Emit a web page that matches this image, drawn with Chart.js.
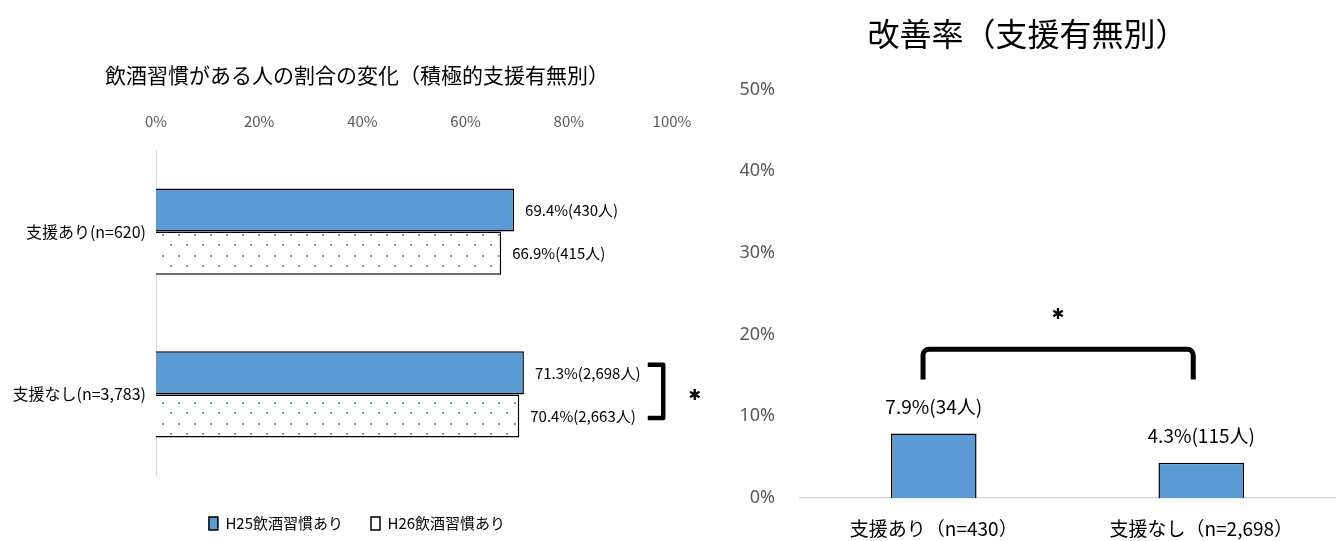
<!DOCTYPE html>
<html><head><meta charset="utf-8">
<script src="https://cdn.jsdelivr.net/npm/chart.js@4.4.1/dist/chart.umd.min.js"></script>
<style>
html,body{margin:0;padding:0;background:#fff;width:1339px;height:541px;overflow:hidden}
#wl{position:absolute;left:0;top:0;width:720px;height:541px}
#wr{position:absolute;left:720px;top:0;width:619px;height:541px}
</style></head><body>
<div id="wl"><canvas id="cl"></canvas></div>
<div id="wr"><canvas id="cr"></canvas></div>
<script>
// ---- data: left chart ----
const leftTitle = '飲酒習慣がある人の割合の変化（積極的支援有無別）';
const groupLabels = ['支援あり(n=620)', '支援なし(n=3,783)'];
const seriesNames = ['H25飲酒習慣あり', 'H26飲酒習慣あり'];
const h25Rates = [69.4, 71.3];
const h26Rates = [66.9, 70.4];
const h25Texts = ['69.4%(430人)', '71.3%(2,698人)'];
const h26Texts = ['66.9%(415人)', '70.4%(2,663人)'];
const leftAxisMax = 100;
const leftAxisStep = 20;

// ---- data: right chart ----
const rightTitle = '改善率（支援有無別）';
const improveGroups = ['支援あり（n=430）', '支援なし（n=2,698）'];
const improveRates = [7.9, 4.3];
const improveTexts = ['7.9%(34人)', '4.3%(115人)'];
const rightAxisMax = 50;
const rightAxisStep = 10;

const narrow = '"Liberation Sans Narrow", "Noto Sans CJK JP", sans-serif';
const cjk = '"Noto Sans CJK JP", "Noto Sans", sans-serif';
const blue = '#5B9BD5';
const gray = '#595959';

function dotPattern(ctx) {
  const c = document.createElement('canvas');
  c.width = 16; c.height = 21;
  const g = c.getContext('2d');
  g.fillStyle = '#fff'; g.fillRect(0, 0, 16, 21);
  g.fillStyle = blue;
  g.fillRect(2, 3, 2, 2);
  g.fillRect(10, 13, 2, 2);
  return ctx.createPattern(c, 'repeat');
}

const barText = {
  id: 'barText',
  afterDatasetsDraw(chart, args, opts) {
    const ctx = chart.ctx;
    ctx.save();
    ctx.font = opts.font;
    ctx.fillStyle = '#000';
    ctx.textBaseline = 'middle';
    opts.texts.forEach((arr, di) => {
      chart.getDatasetMeta(di).data.forEach((bar, i) => {
        if (opts.horizontal) {
          ctx.textAlign = 'left';
          ctx.fillText(arr[i], bar.x + opts.offset, bar.y);
        } else {
          ctx.textAlign = 'center';
          ctx.fillText(arr[i], bar.x, bar.y - opts.offset);
        }
      });
    });
    ctx.restore();
  }
};

const leftBracket = {
  id: 'leftBracket',
  afterDraw(chart) {
    const xs = chart.scales.x;
    const a = chart.getDatasetMeta(0).data[1];
    const b = chart.getDatasetMeta(1).data[1];
    const x1 = xs.getPixelForValue(95.3), x2 = xs.getPixelForValue(98.3);
    const top = a.y - 8, bot = b.y + 2;
    const ctx = chart.ctx;
    ctx.save();
    ctx.strokeStyle = '#000'; ctx.lineWidth = 4.5; ctx.lineJoin = 'round';
    ctx.beginPath();
    ctx.moveTo(x1, top); ctx.lineTo(x2, top); ctx.lineTo(x2, bot); ctx.lineTo(x1, bot);
    ctx.stroke();
    ctx.fillStyle = '#000';
    ctx.font = 'bold 15px "DejaVu Sans"';
    ctx.textAlign = 'center'; ctx.textBaseline = 'middle';
    ctx.fillText('✱', xs.getPixelForValue(104.4), (a.y + b.y) / 2 + 2);
    ctx.restore();
  }
};

const rightBracket = {
  id: 'rightBracket',
  afterDraw(chart) {
    const xs = chart.scales.x, ys = chart.scales.y;
    const x1 = xs.getPixelForValue(-0.04), x2 = xs.getPixelForValue(0.97);
    const top = ys.getPixelForValue(18.2), bot = ys.getPixelForValue(14.5);
    const r = 6;
    const ctx = chart.ctx;
    ctx.save();
    ctx.strokeStyle = '#000'; ctx.lineWidth = 5;
    ctx.beginPath();
    ctx.moveTo(x1, bot);
    ctx.lineTo(x1, top + r);
    ctx.arcTo(x1, top, x1 + r, top, r);
    ctx.lineTo(x2 - r, top);
    ctx.arcTo(x2, top, x2, top + r, r);
    ctx.lineTo(x2, bot);
    ctx.stroke();
    ctx.fillStyle = '#000';
    ctx.font = 'bold 15px "DejaVu Sans"';
    ctx.textAlign = 'center'; ctx.textBaseline = 'middle';
    ctx.fillText('✱', (x1 + x2) / 2, ys.getPixelForValue(22.4));
    ctx.restore();
  }
};

const cl = document.getElementById('cl');
const pat = dotPattern(cl.getContext('2d'));

new Chart(cl, {
  type: 'bar',
  data: {
    labels: groupLabels,
    datasets: [
      { label: seriesNames[0], data: h25Rates, backgroundColor: blue, borderColor: '#000', borderWidth: 1.5,
        categoryPercentage: 0.53, barPercentage: 1.0 },
      { label: seriesNames[1], data: h26Rates, backgroundColor: pat, borderColor: '#000', borderWidth: 1.5,
        categoryPercentage: 0.53, barPercentage: 1.0 }
    ]
  },
  options: {
    indexAxis: 'y',
    responsive: true,
    maintainAspectRatio: false,
    animation: false,
    layout: { padding: { left: 0, right: 6, top: 0, bottom: 0 } },
    scales: {
      x: {
        position: 'top', min: 0, max: leftAxisMax,
        grid: { display: false, drawTicks: false },
        border: { display: false },
        ticks: { stepSize: leftAxisStep, padding: 20, color: gray,
                 font: { family: narrow, size: 15 }, callback: v => v + '%' },
        afterFit(s) { s.height = 58; }
      },
      y: {
        grid: { display: false, drawTicks: false },
        border: { display: true, color: '#d9d9d9', width: 1 },
        ticks: { padding: 10, color: '#000', font: { family: narrow, size: 16 } },
        afterFit(s) { s.width = 156; }
      },
      yPad: {
        type: 'category', position: 'right', display: true,
        grid: { display: false, drawTicks: false },
        border: { display: false },
        ticks: { display: false },
        afterFit(s) { s.width = 42; }
      }
    },
    plugins: {
      tooltip: { enabled: false },
      title: { display: true, text: leftTitle, color: '#000',
               font: { family: narrow, size: 21, weight: 'normal' },
               padding: { top: 62, bottom: 5 } },
      legend: {
        position: 'bottom',
        title: { display: true, text: '', font: { size: 1 }, padding: { top: 11, bottom: 0 } },
        labels: {
          boxWidth: 9, boxHeight: 13, padding: 28, color: '#000',
          font: { family: narrow, size: 15 },
          generateLabels(chart) {
            const items = Chart.defaults.plugins.legend.labels.generateLabels(chart);
            items[1].fillStyle = '#fff';
            return items;
          }
        }
      },
      barText: { texts: [h25Texts, h26Texts], horizontal: true, offset: 11,
                 font: '15px ' + narrow }
    }
  },
  plugins: [barText, leftBracket]
});

new Chart(document.getElementById('cr'), {
  type: 'bar',
  data: {
    labels: improveGroups,
    datasets: [
      { label: '改善率', data: improveRates, backgroundColor: blue, borderColor: '#000', borderWidth: 1.5,
        categoryPercentage: 0.32, barPercentage: 1.0 }
    ]
  },
  options: {
    responsive: true,
    maintainAspectRatio: false,
    animation: false,
    layout: { padding: { left: 0, right: 4, top: 0, bottom: 0 } },
    scales: {
      x: {
        grid: { display: false, drawTicks: false },
        border: { display: true, color: '#d9d9d9', width: 1.5 },
        ticks: { padding: 19, color: '#000', font: { family: cjk, size: 19 } },
        afterFit(s) { s.height = 43; }
      },
      y: {
        min: 0, max: rightAxisMax,
        grid: { display: false, drawTicks: false },
        border: { display: false },
        ticks: { stepSize: rightAxisStep, padding: 25, color: gray,
                 font: { family: '"Noto Sans", sans-serif', size: 18 }, callback: v => v + '%' },
        afterFit(s) { s.width = 80; }
      }
    },
    plugins: {
      tooltip: { enabled: false },
      legend: { display: false },
      title: { display: true, text: rightTitle, color: '#000',
               font: { family: cjk, size: 32, weight: 'normal' },
               padding: { top: 15, bottom: 36 } },
      barText: { texts: [improveTexts], horizontal: false, offset: 27,
                 font: '19px ' + cjk }
    }
  },
  plugins: [barText, rightBracket]
});
</script>
</body></html>
